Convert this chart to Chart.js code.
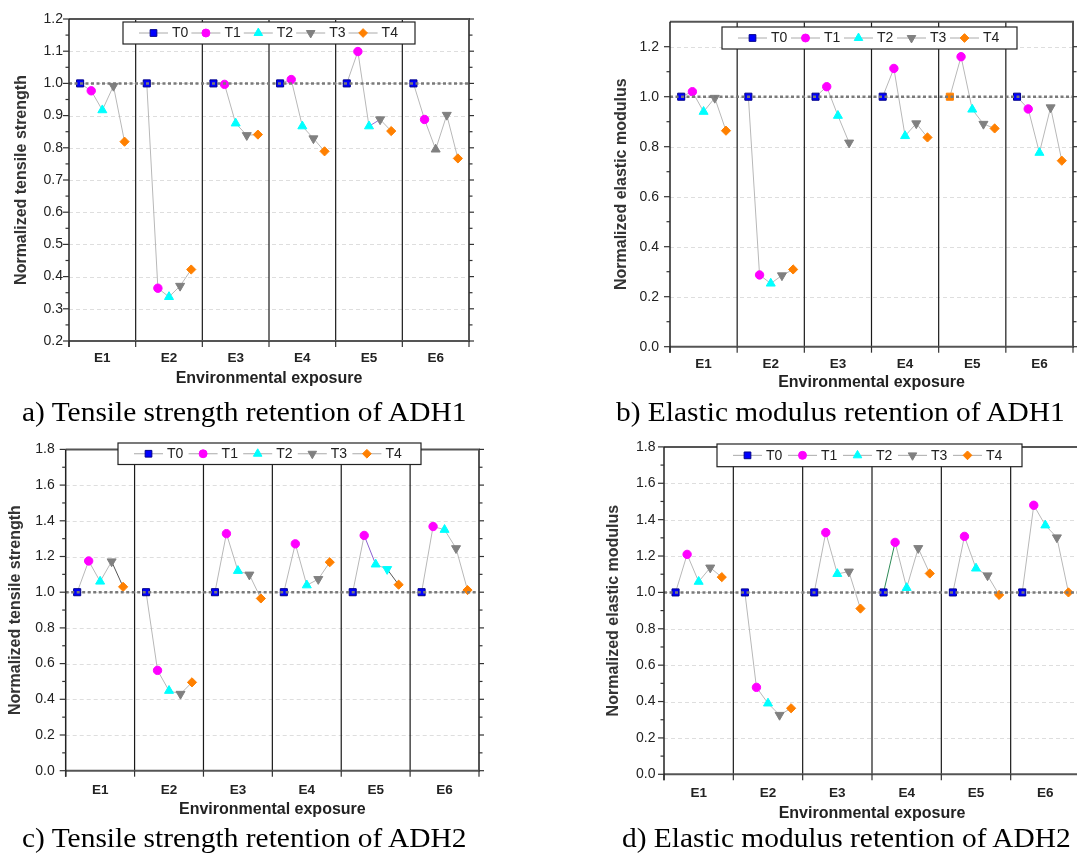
<!DOCTYPE html>
<html>
<head>
<meta charset="utf-8">
<script src="https://cdn.jsdelivr.net/npm/chart.js@4.4.1/dist/chart.umd.min.js"></script>
<style>
  html, body { margin: 0; padding: 0; background: #fff; }
  body { width: 1077px; height: 855px; position: relative; overflow: hidden; }
  .panel { position: absolute; }
  .caption {
    position: absolute;
    font-family: "Liberation Serif", "Times New Roman", serif;
    font-size: 27px;
    line-height: 27px;
    color: #000;
    white-space: nowrap;
    transform: scaleX(1.09);
    transform-origin: 0 0;
  }
</style>
</head>
<body>
<div class="panel" style="left:0;top:0"><canvas id="chartA" width="480" height="400"></canvas></div>
<div class="panel" style="left:600px;top:0"><canvas id="chartB" width="484" height="400"></canvas></div>
<div class="panel" style="left:0;top:430px"><canvas id="chartC" width="490" height="400"></canvas></div>
<div class="panel" style="left:600px;top:430px"><canvas id="chartD" width="491" height="400"></canvas></div>

<div class="caption" style="left:22px;top:399px">a) Tensile strength retention of ADH1</div>
<div class="caption" style="left:616px;top:399px">b) Elastic modulus retention of ADH1</div>
<div class="caption" style="left:22px;top:825px">c) Tensile strength retention of ADH2</div>
<div class="caption" style="left:622px;top:825px">d) Elastic modulus retention of ADH2</div>

<script>
// categories and series
const categories = ['E1', 'E2', 'E3', 'E4', 'E5', 'E6'];
const seriesNames = ['T0', 'T1', 'T2', 'T3', 'T4'];

// reference (unexposed) values, same in every panel
const T0 = [1.0, 1.0, 1.0, 1.0, 1.0, 1.0];

// a) tensile strength, ADH1
const tensileAdh1T1 = [0.977, 0.364, 0.997, 1.012, 1.099, 0.888];
const tensileAdh1T2 = [0.917, 0.337, 0.876, 0.867, 0.867, 0.795];
const tensileAdh1T3 = [0.992, 0.371, 0.839, 0.829, 0.888, 0.902];
const tensileAdh1T4 = [0.819, 0.422, 0.841, 0.789, 0.852, 0.767];

// b) elastic modulus, ADH1
const modulusAdh1T1 = [1.020, 0.287, 1.040, 1.113, 1.160, 0.951];
const modulusAdh1T2 = [0.940, 0.253, 0.924, 0.843, 0.949, 0.776];
const modulusAdh1T3 = [0.995, 0.285, 0.816, 0.893, 0.891, 0.957];
const modulusAdh1T4 = [0.864, 0.309, null, 0.837, 0.873, 0.744];

// c) tensile strength, ADH2
const tensileAdh2T1 = [1.175, 0.562, 1.328, 1.271, 1.318, 1.368];
const tensileAdh2T2 = [1.060, 0.448, 1.120, 1.039, 1.156, 1.350];
const tensileAdh2T3 = [1.172, 0.430, 1.098, 1.073, 1.129, 1.246];
const tensileAdh2T4 = [1.030, 0.495, 0.965, 1.168, 1.042, 1.012];

// d) elastic modulus, ADH2
const modulusAdh2T1 = [1.209, 0.478, 1.329, 1.275, 1.308, 1.479];
const modulusAdh2T2 = [1.059, 0.390, 1.102, 1.025, 1.132, 1.369];
const modulusAdh2T3 = [1.136, 0.326, 1.114, 1.243, 1.093, 1.302];
const modulusAdh2T4 = [1.084, 0.363, 0.911, 1.104, 0.986, 1.000];

// y tick labels
const ticksAdh1Tensile = [0.2, 0.3, 0.4, 0.5, 0.6, 0.7, 0.8, 0.9, 1.0, 1.1, 1.2];
const ticksAdh1Modulus = [0.0, 0.2, 0.4, 0.6, 0.8, 1.0, 1.2];
const ticksAdh2 = [0.0, 0.2, 0.4, 0.6, 0.8, 1.0, 1.2, 1.4, 1.6, 1.8];

Chart.defaults.font.family = '"Liberation Sans", Arial, sans-serif';

const markerStyles = [
  { fill: '#0000ff', edge: '#00008b', style: 'rect', radius: 5, rotation: 0 },
  { fill: '#ff00ff', edge: '#ff00ff', style: 'circle', radius: 4.2, rotation: 0 },
  { fill: '#00ffff', edge: '#00ffff', style: 'triangle', radius: 5.2, rotation: 0 },
  { fill: '#808080', edge: '#808080', style: 'triangle', radius: 5.2, rotation: 180 },
  { fill: '#ff8000', edge: '#ff8000', style: 'rectRot', radius: 4.6, rotation: 0 }
];

// T_k sits at (k+1)/6 of its category slot
const xPos = (cat, k) => cat + (k + 1) / 6;

function line(ctx, x1, y1, x2, y2) {
  ctx.beginPath();
  ctx.moveTo(x1, y1);
  ctx.lineTo(x2, y2);
  ctx.stroke();
}

function drawMarker(ctx, st, x, y, r) {
  ctx.fillStyle = st.fill;
  ctx.strokeStyle = st.edge;
  ctx.lineWidth = 1;
  ctx.beginPath();
  if (st.style === 'rect') {
    const h = r * Math.SQRT1_2;
    ctx.rect(x - h, y - h, 2 * h, 2 * h);
  } else if (st.style === 'circle') {
    ctx.arc(x, y, r, 0, Math.PI * 2);
  } else if (st.style === 'triangle') {
    let rad = st.rotation * Math.PI / 180;
    for (let i = 0; i < 3; i++) {
      const px = x + Math.sin(rad) * r, py = y - Math.cos(rad) * r;
      if (i === 0) ctx.moveTo(px, py); else ctx.lineTo(px, py);
      rad += Math.PI * 2 / 3;
    }
    ctx.closePath();
  } else {
    ctx.moveTo(x, y - r); ctx.lineTo(x + r, y); ctx.lineTo(x, y + r); ctx.lineTo(x - r, y);
    ctx.closePath();
  }
  ctx.fill();
  ctx.stroke();
}

const framePlugin = {
  id: 'frame',
  beforeDatasetsDraw(chart, args, opts) {
    const { ctx, chartArea: a, scales: { x, y } } = chart;
    ctx.save();
    ctx.strokeStyle = '#dedede';
    ctx.lineWidth = 1;
    ctx.setLineDash([4, 3]);
    opts.majors.forEach((v) => {
      const py = Math.round(y.getPixelForValue(v)) + 0.5;
      if (py > a.top + 2 && py < a.bottom - 2) line(ctx, a.left, py, a.right, py);
    });
    ctx.setLineDash([]);
    ctx.strokeStyle = '#1a1a1a';
    ctx.lineWidth = 1.2;
    for (let i = 1; i < categories.length; i++) {
      const px = x.getPixelForValue(i);
      line(ctx, px, a.top, px, a.bottom);
    }
    ctx.restore();
  },
  afterDatasetsDraw(chart, args, opts) {
    const { ctx, chartArea: a, scales: { x, y } } = chart;
    ctx.save();
    // dotted reference line at 1.0
    const ry = y.getPixelForValue(1.0);
    ctx.strokeStyle = '#7a7a7a';
    ctx.lineWidth = 2.5;
    ctx.setLineDash([3, 2.5]);
    line(ctx, a.left, ry, a.right, ry);
    ctx.setLineDash([]);

    // frame
    ctx.strokeStyle = '#555';
    ctx.lineWidth = 2;
    line(ctx, a.left, a.top, a.right + 1, a.top);
    line(ctx, a.right, a.top, a.right, a.bottom);
    line(ctx, a.left, a.bottom, a.right + 1, a.bottom);
    ctx.strokeStyle = '#222';
    ctx.lineWidth = 1.5;
    line(ctx, a.left, a.top, a.left, a.bottom + 6);

    // ticks
    ctx.strokeStyle = '#333';
    ctx.lineWidth = 1.2;
    for (let i = 0; i <= categories.length; i++) {
      const px = x.getPixelForValue(i);
      line(ctx, px, a.bottom, px, a.bottom + 6);
    }
    const majors = opts.majors;
    const minors = [];
    for (let i = 0; i < majors.length; i++) {
      const next = i + 1 < majors.length ? majors[i + 1] : majors[i] + (majors[1] - majors[0]);
      const mid = (majors[i] + next) / 2;
      if (mid < y.max - 1e-6) minors.push(mid);
    }
    majors.forEach((v) => {
      const py = y.getPixelForValue(v);
      line(ctx, a.left - 6, py, a.left, py);
      line(ctx, a.right, py, a.right + 5, py);
    });
    minors.forEach((v) => {
      const py = y.getPixelForValue(v);
      line(ctx, a.left - 3.5, py, a.left, py);
      line(ctx, a.right, py, a.right + 3.5, py);
    });

    // legend box
    const lb = opts.legendBox;
    ctx.fillStyle = '#fff';
    ctx.fillRect(lb.x, lb.y, lb.w, lb.h);
    ctx.strokeStyle = '#222';
    ctx.lineWidth = 1.2;
    ctx.strokeRect(lb.x, lb.y, lb.w, lb.h);
    const period = (lb.w - 30) / seriesNames.length;
    const cy = lb.y + lb.h / 2;
    seriesNames.forEach((name, k) => {
      const sx = lb.x + 16 + k * period;
      ctx.strokeStyle = '#aaa';
      ctx.lineWidth = 1;
      line(ctx, sx, cy, sx + 29, cy);
      drawMarker(ctx, markerStyles[k], sx + 14.5, cy, markerStyles[k].radius * 0.95);
      ctx.fillStyle = '#222';
      ctx.font = '14px "Liberation Sans", Arial, sans-serif';
      ctx.textBaseline = 'middle';
      ctx.textAlign = 'left';
      ctx.fillText(name, sx + 33, cy + 0.5);
    });
    ctx.restore();
  }
};

function buildChart(id, cfg) {
  const datasets = [];
  // marker datasets (drawn on top)
  cfg.series.forEach((vals, k) => {
    const st = markerStyles[k];
    const pick = (i, fallback) => {
      const o = (cfg.pointColors || []).find((p) => p[0] === k && p[1] === i);
      return o ? o[2] : fallback;
    };
    datasets.push({
      label: seriesNames[k],
      data: categories.map((c, i) => ({ x: xPos(i, k), y: vals[i] })),
      showLine: false,
      pointStyle: st.style,
      pointRotation: st.rotation,
      pointRadius: st.radius,
      pointBackgroundColor: categories.map((c, i) => pick(i, st.fill)),
      pointBorderColor: categories.map((c, i) => pick(i, st.edge)),
      pointBorderWidth: 1
    });
  });
  // one thin connecting line per exposure
  categories.forEach((c, i) => {
    datasets.push({
      label: c,
      data: seriesNames.map((s, k) => ({ x: xPos(i, k), y: cfg.series[k][i] })),
      borderColor: '#b8b8b8',
      borderWidth: 1,
      pointRadius: 0,
      segment: {
        borderColor: (ctx) => {
          const o = (cfg.lineColors || []).find((p) => p[0] === i && p[1] === ctx.p0DataIndex);
          return o ? o[2] : undefined;
        }
      }
    });
  });

  new Chart(document.getElementById(id), {
    type: 'line',
    data: { datasets },
    plugins: [framePlugin],
    options: {
      responsive: false,
      animation: false,
      events: [],
      layout: { padding: { top: cfg.padTop, right: 11, left: 0, bottom: 0 } },
      plugins: {
        legend: { display: false },
        tooltip: { enabled: false },
        frame: { majors: cfg.ticks, legendBox: cfg.legendBox }
      },
      scales: {
        x: {
          type: 'linear',
          min: 0,
          max: categories.length,
          afterBuildTicks: (s) => { s.ticks = categories.map((c, i) => ({ value: i + 0.5 })); },
          afterFit: (s) => { s.height = cfg.xHeight; },
          ticks: {
            callback: (v, i) => categories[i],
            autoSkip: false,
            maxRotation: 0,
            padding: cfg.xLabelPad,
            color: '#222',
            font: { size: 13.5, weight: 'bold' }
          },
          grid: { display: false, drawTicks: false },
          border: { display: false },
          title: {
            display: true,
            text: 'Environmental exposure',
            color: '#222',
            font: { size: 16, weight: 'bold' },
            padding: { top: 0, bottom: cfg.xTitlePad }
          }
        },
        y: {
          type: 'linear',
          min: cfg.yMin,
          max: cfg.yMax,
          afterBuildTicks: (s) => { s.ticks = cfg.ticks.map((v) => ({ value: v })); },
          afterFit: (s) => { s.width = cfg.yWidth; },
          ticks: {
            callback: (v) => Number(v).toFixed(1),
            padding: cfg.yLabelPad,
            color: '#222',
            font: { size: 14 }
          },
          grid: { display: false, drawTicks: false },
          border: { display: false },
          title: {
            display: true,
            text: cfg.yTitle,
            color: '#333',
            font: { size: 16, weight: 'bold' },
            padding: { top: cfg.yTitlePad, bottom: 0 }
          }
        }
      }
    }
  });
}

buildChart('chartA', {
  series: [T0, tensileAdh1T1, tensileAdh1T2, tensileAdh1T3, tensileAdh1T4],
  ticks: ticksAdh1Tensile, yMin: 0.2, yMax: 1.2,
  yTitle: 'Normalized tensile strength',
  yWidth: 69, yTitlePad: 12.4, yLabelPad: 6, padTop: 19,
  xHeight: 59, xLabelPad: 9.5, xTitlePad: 11.6,
  legendBox: { x: 123, y: 22, w: 292, h: 22 },
  pointColors: [[2, 5, '#808080']],
  lineColors: [[4, 2, '#9370db']]
});

buildChart('chartB', {
  series: [T0, modulusAdh1T1, modulusAdh1T2, modulusAdh1T3, modulusAdh1T4],
  ticks: ticksAdh1Modulus, yMin: 0, yMax: 1.3,
  yTitle: 'Normalized elastic modulus',
  yWidth: 70, yTitlePad: 12.4, yLabelPad: 11, padTop: 21.7,
  xHeight: 53.3, xLabelPad: 9.2, xTitlePad: 7.4,
  legendBox: { x: 122, y: 27, w: 295, h: 22 },
  pointColors: [[0, 4, '#ff8000']]
});

buildChart('chartC', {
  series: [T0, tensileAdh2T1, tensileAdh2T2, tensileAdh2T3, tensileAdh2T4],
  ticks: ticksAdh2, yMin: 0, yMax: 1.8,
  yTitle: 'Normalized tensile strength',
  yWidth: 65.7, yTitlePad: 5.9, yLabelPad: 11, padTop: 7.3,
  xHeight: 59.3, xLabelPad: 11, xTitlePad: 10.4,
  legendBox: { x: 118, y: 13, w: 303, h: 21.5 },
  pointColors: [[3, 4, '#00ffff']],
  lineColors: [[0, 3, '#555'], [4, 1, '#8a5fd0'], [4, 3, '#555']]
});

buildChart('chartD', {
  series: [T0, modulusAdh2T1, modulusAdh2T2, modulusAdh2T3, modulusAdh2T4],
  ticks: ticksAdh2, yMin: 0, yMax: 1.8,
  yTitle: 'Normalized elastic modulus',
  yWidth: 64, yTitlePad: 4.4, yLabelPad: 8.5, padTop: 9,
  xHeight: 55.7, xLabelPad: 10.5, xTitlePad: 6.4,
  legendBox: { x: 117, y: 14, w: 305, h: 22.7 },
  lineColors: [[3, 0, '#2e8b57']]
});
</script>
</body>
</html>
